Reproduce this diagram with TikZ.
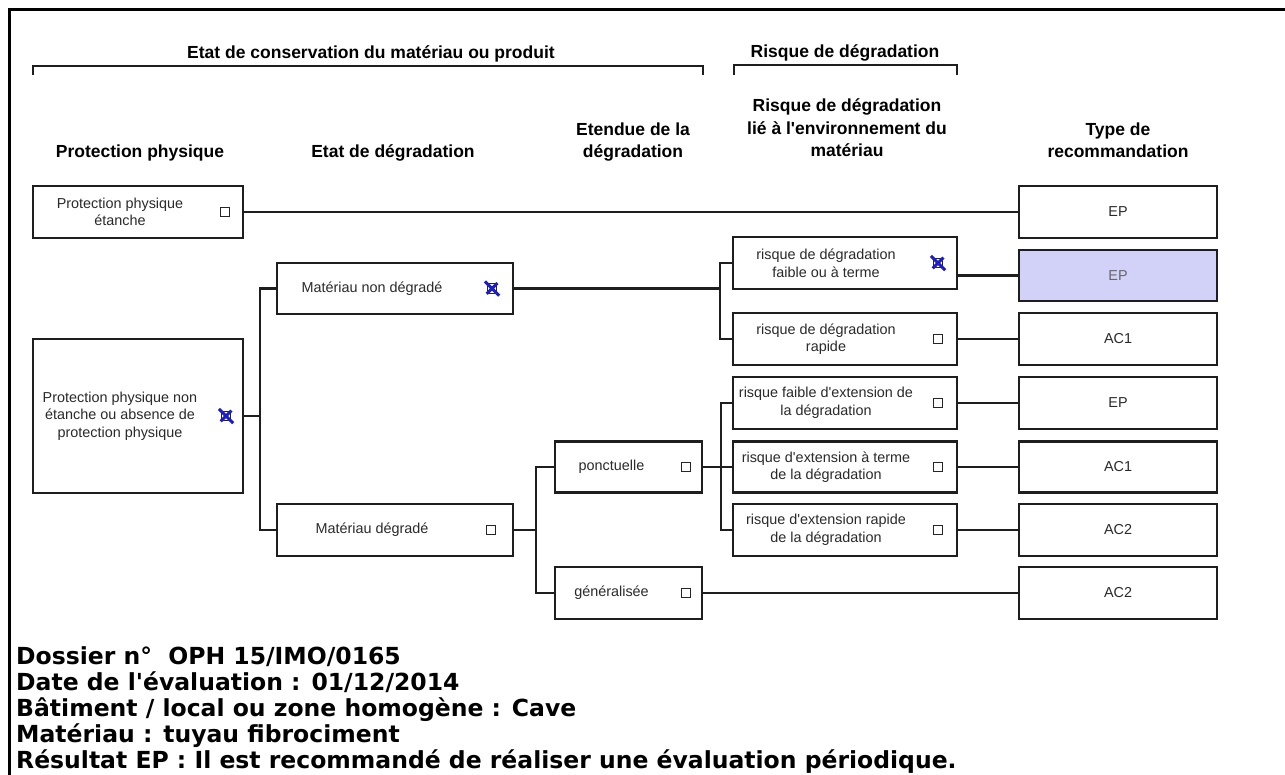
\documentclass[tikz,border=0pt]{standalone}
\usepackage{fontspec}
\setmainfont{Liberation Sans}
\newfontfamily\infofont{DejaVu Sans}
\usetikzlibrary{positioning}

\definecolor{boxline}{HTML}{1E1E1E}
\definecolor{boxtext}{HTML}{2A2A2A}
\definecolor{picked}{HTML}{D2D2F8}
\definecolor{xblue}{HTML}{1C1CC8}

\tikzset{
  box/.style={draw=boxline, line width=2.2pt, minimum height=52pt, inner sep=0pt, fill=white},
  head/.style={font=\fontsize{17.5}{22.5}\selectfont\bfseries, align=center},
  lbl/.style={font=\fontsize{14.4}{17.6}\selectfont, text=boxtext, align=center},
  chk/.style={draw=black!85, line width=1.2pt, minimum size=9.5pt, inner sep=0pt},
  xmark/.style={draw=xblue, line width=3pt, shorten <=-2.5pt, shorten >=-2.5pt},
  link/.style={draw=boxline, line width=2.2pt},
}

\begin{document}
\begin{tikzpicture}[x=1pt, y=-1pt]
    \useasboundingbox (0,0) rectangle (1285,774);

    % Frame
    \draw[line width=3pt] (9,790) -- (9,9) -- (1300,9);

    % Group headers with brackets
    \node[head] (hCons) at (371,54) {Etat de conservation du mat\'eriau ou produit};
    \draw[link] (33,75) -- (33,66) -- (703,66) -- (703,75);
    \node[head] (hRisk) at (845,53) {Risque de d\'egradation};
    \draw[link] (734,75) -- (734,65) -- (957,65) -- (957,75);

    % Column headers
    \node[head] (hProt) at (140,153) {Protection physique};
    \node[head] (hEtat) at (393,153) {Etat de d\'egradation};
    \node[head] (hEtend) at (633,142) {Etendue de la\\d\'egradation};
    \node[head] (hEnv) at (847,128) {Risque de d\'egradation\\li\'e \`a l\textquotesingle environnement du\\mat\'eriau};
    \node[head] (hType) at (1118,140) {Type de\\recommandation};

    % Protection physique
    \node[box, minimum width=210pt] (ppEt) at (138,212) {};
    \node[lbl] at ([xshift=-18pt]ppEt.center) {Protection physique\\\'etanche};
    \node[chk] (ckPpEt) at ([xshift=-19pt]ppEt.east) {};

    \node[box, minimum width=210pt, minimum height=154pt] (ppNon) at (138,416) {};
    \node[lbl] at ([xshift=-18pt]ppNon.center) {Protection physique non\\\'etanche ou absence de\\protection physique};
    \node[chk] (ckPpNon) at ([xshift=-18pt]ppNon.east) {};

    % Etat de degradation
    \node[box, minimum width=236pt, minimum height=51pt] (matNd) at (395,288.5) {};
    \node[lbl] at ([xshift=-23pt]matNd.center) {Mat\'eriau non d\'egrad\'e};
    \node[chk] (ckMatNd) at ([xshift=-22pt]matNd.east) {};

    \node[box, minimum width=236pt] (matD) at (395,530) {};
    \node[lbl] at ([xshift=-23pt]matD.center) {Mat\'eriau d\'egrad\'e};
    \node[chk] (ckMatD) at ([xshift=-23pt]matD.east) {};

    % Etendue
    \node[box, minimum width=147pt, minimum height=51pt] (ponct) at (628.5,467) {};
    \node[lbl] at ([xshift=-17pt]ponct.center) {ponctuelle};
    \node[chk] (ckPonct) at ([xshift=-17pt]ponct.east) {};

    \node[box, minimum width=147pt] (gener) at (628.5,593) {};
    \node[lbl] at ([xshift=-17pt]gener.center) {g\'en\'eralis\'ee};
    \node[chk] (ckGener) at ([xshift=-17pt]gener.east) {};

    % Risque lie a l'environnement
    \node[box, minimum width=224pt] (rFaible) at (845,263) {};
    \node[lbl] at ([xshift=-19pt]rFaible.center) {risque de d\'egradation\\faible ou \`a terme};
    \node[chk] (ckRFaible) at ([xshift=-20pt]rFaible.east) {};

    \node[box, minimum width=224pt] (rRapide) at (845,339) {};
    \node[lbl] at ([xshift=-19pt]rRapide.center) {risque de d\'egradation\\rapide};
    \node[chk] (ckRRapide) at ([xshift=-20pt]rRapide.east) {};

    \node[box, minimum width=224pt] (eFaible) at (845,403) {};
    \node[lbl] at ([xshift=-19pt]eFaible.center) {risque faible d\textquotesingle extension de\\la d\'egradation};
    \node[chk] (ckEFaible) at ([xshift=-20pt]eFaible.east) {};

    \node[box, minimum width=224pt, minimum height=51pt] (eTerme) at (845,467) {};
    \node[lbl] at ([xshift=-19pt]eTerme.center) {risque d\textquotesingle extension \`a terme\\de la d\'egradation};
    \node[chk] (ckETerme) at ([xshift=-20pt]eTerme.east) {};

    \node[box, minimum width=224pt] (eRapide) at (845,530) {};
    \node[lbl] at ([xshift=-19pt]eRapide.center) {risque d\textquotesingle extension rapide\\de la d\'egradation};
    \node[chk] (ckERapide) at ([xshift=-20pt]eRapide.east) {};

    % Type de recommandation
    \node[box, minimum width=198pt] (rec1) at (1118,212) {};
    \node[lbl] at (rec1) {EP};
    \node[box, minimum width=198pt, minimum height=51pt, fill=picked] (rec2) at (1118,275.5) {};
    \node[lbl, text=black!60] at (rec2) {EP};
    \node[box, minimum width=198pt] (rec3) at (1118,339) {};
    \node[lbl] at (rec3) {AC1};
    \node[box, minimum width=198pt] (rec4) at (1118,403) {};
    \node[lbl] at (rec4) {EP};
    \node[box, minimum width=198pt, minimum height=51pt] (rec5) at (1118,467) {};
    \node[lbl] at (rec5) {AC1};
    \node[box, minimum width=198pt] (rec6) at (1118,530) {};
    \node[lbl] at (rec6) {AC2};
    \node[box, minimum width=198pt] (rec7) at (1118,593) {};
    \node[lbl] at (rec7) {AC2};

    % Crosses on the chosen answers
    \foreach \c in {ckPpNon, ckMatNd, ckRFaible}
      \draw[xmark] (\c.south west) -- (\c.north east) (\c.north west) -- (\c.south east);

    % Branch points
    \coordinate (spProt) at (260,416);
    \coordinate (spNd) at (720,288.5);
    \coordinate (spD) at (536,530);
    \coordinate (spPonct) at (721,467);

    % Draw lines
    \draw[link] (ppEt.east) -- (rec1.west);
    \draw[link] (ppNon.east) -- (spProt);
    \draw[link] (matNd.west) -| (spProt) |- (matD.west);
    \draw[link] (matNd.east) -- (spNd);
    \draw[link] (rFaible.west) -| (spNd) |- (rRapide.west);
    \draw[link] (rec2.west) -- (rec2.west -| rFaible.east);
    \draw[link] (rRapide.east) -- (rec3.west);
    \draw[link] (matD.east) -- (spD);
    \draw[link] (ponct.west) -| (spD) |- (gener.west);
    \draw[link] (ponct.east) -- (spPonct);
    \draw[link] (eFaible.west) -| (spPonct) |- (eRapide.west);
    \draw[link] (spPonct) -- (eTerme.west);
    \draw[link] (eFaible.east) -- (rec4.west);
    \draw[link] (eTerme.east) -- (rec5.west);
    \draw[link] (eRapide.east) -- (rec6.west);
    \draw[link] (gener.east) -- (rec7.west);

    % Result text
    \node[anchor=north west, inner sep=0pt, align=left,
          font=\infofont\bfseries\fontsize{23.5}{26}\selectfont] (info) at (16,646)
      {Dossier n\textdegree{}\ \ OPH 15/IMO/0165\\
       Date de l\textquotesingle\'evaluation : 01/12/2014\\
       B\^atiment / local ou zone homog\`ene : Cave\\
       Mat\'eriau : tuyau fibrociment\\
       R\'esultat EP : Il est recommand\'e de r\'ealiser une \'evaluation p\'eriodique.};
\end{tikzpicture}
\end{document}
